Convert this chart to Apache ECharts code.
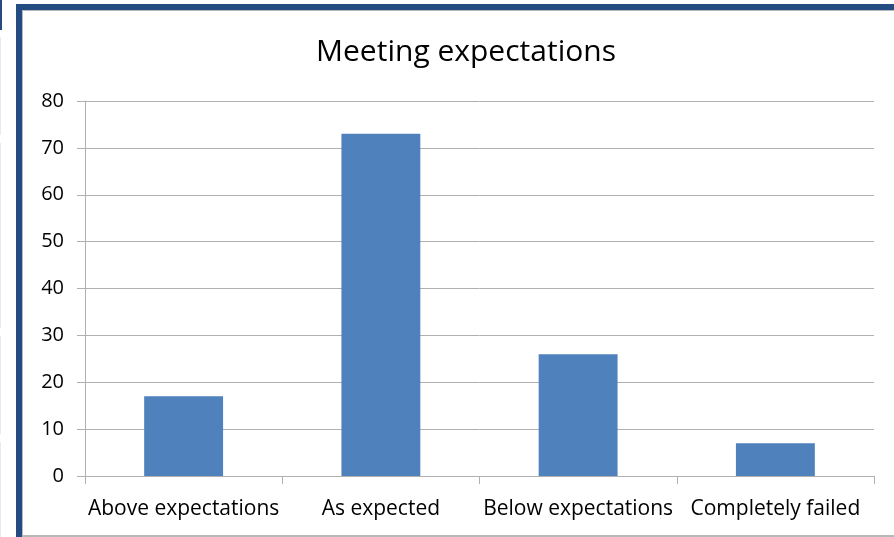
<!DOCTYPE html>
<html>
<head>
<meta charset="utf-8">
<script src="https://cdn.jsdelivr.net/npm/echarts@6/dist/echarts.min.js"></script>
<style>
  html, body { margin: 0; padding: 0; background: #ffffff; }
  #chart { width: 894px; height: 537px; }
</style>
</head>
<body>
<div id="chart"></div>
<script>
// Responses to the "Meeting expectations" question
const categories = ['Above expectations', 'As expected', 'Below expectations', 'Completely failed'];
const counts = [17, 73, 26, 7];
const yTicks = { min: 0, max: 80, interval: 10 };

const FONT = 'Open Sans';
const chart = echarts.init(document.getElementById('chart'), null, { renderer: 'canvas' });

chart.setOption({
  animation: false,
  backgroundColor: '#ffffff',
  textStyle: { fontFamily: FONT },
  title: {
    text: 'Meeting expectations',
    left: 461,
    textAlign: 'center',
    top: 32,
    textStyle: { fontFamily: FONT, fontSize: 30, fontWeight: 'normal', color: '#000000' }
  },
  graphic: [
    // window frame round the chart
    { type: 'rect', z: -10, shape: { x: 16, y: 4, width: 900, height: 560 }, style: { fill: '#244b82' } },
    { type: 'rect', z: -9, shape: { x: 22, y: 10, width: 900, height: 560 }, style: { fill: '#b8b8b8' } },
    { type: 'rect', z: -8, shape: { x: 23, y: 11, width: 900, height: 524 }, style: { fill: '#ffffff' } },
    // edge of the neighbouring pane
    { type: 'rect', z: -8, shape: { x: 0, y: 0, width: 2, height: 30 }, style: { fill: '#244b82' } },
    { type: 'rect', z: -8, shape: { x: 0, y: 37, width: 1, height: 98 }, style: { fill: '#e4ebf5' } },
    { type: 'rect', z: -8, shape: { x: 0, y: 143, width: 1, height: 185 }, style: { fill: '#e4ebf5' } },
    { type: 'rect', z: -8, shape: { x: 0, y: 336, width: 1, height: 98 }, style: { fill: '#e4ebf5' } },
    { type: 'rect', z: -8, shape: { x: 0, y: 442, width: 1, height: 95 }, style: { fill: '#e4ebf5' } }
  ],
  grid: { left: 85, right: 20, top: 101, bottom: 61, containLabel: false },
  xAxis: {
    type: 'category',
    data: categories,
    axisLine: { show: true, lineStyle: { color: '#b0b0b0', width: 1 } },
    axisTick: { show: true, alignWithLabel: false, length: 8, lineStyle: { color: '#b0b0b0' } },
    axisLabel: { color: '#000000', fontSize: 21, margin: 23, interval: 0, fontFamily: FONT },
    splitLine: { show: false }
  },
  yAxis: {
    type: 'value',
    min: yTicks.min,
    max: yTicks.max,
    interval: yTicks.interval,
    axisLine: { show: true, lineStyle: { color: '#b0b0b0', width: 1 } },
    axisTick: { show: true, length: 8, lineStyle: { color: '#b0b0b0' } },
    axisLabel: { color: '#000000', fontSize: 20, margin: 21, fontFamily: FONT },
    splitLine: { show: true, lineStyle: { color: '#b0b0b0', width: 1 } }
  },
  series: [{
    type: 'bar',
    data: counts,
    barWidth: '40%',
    itemStyle: { color: '#4f81bd' }
  }]
});
</script>
</body>
</html>
